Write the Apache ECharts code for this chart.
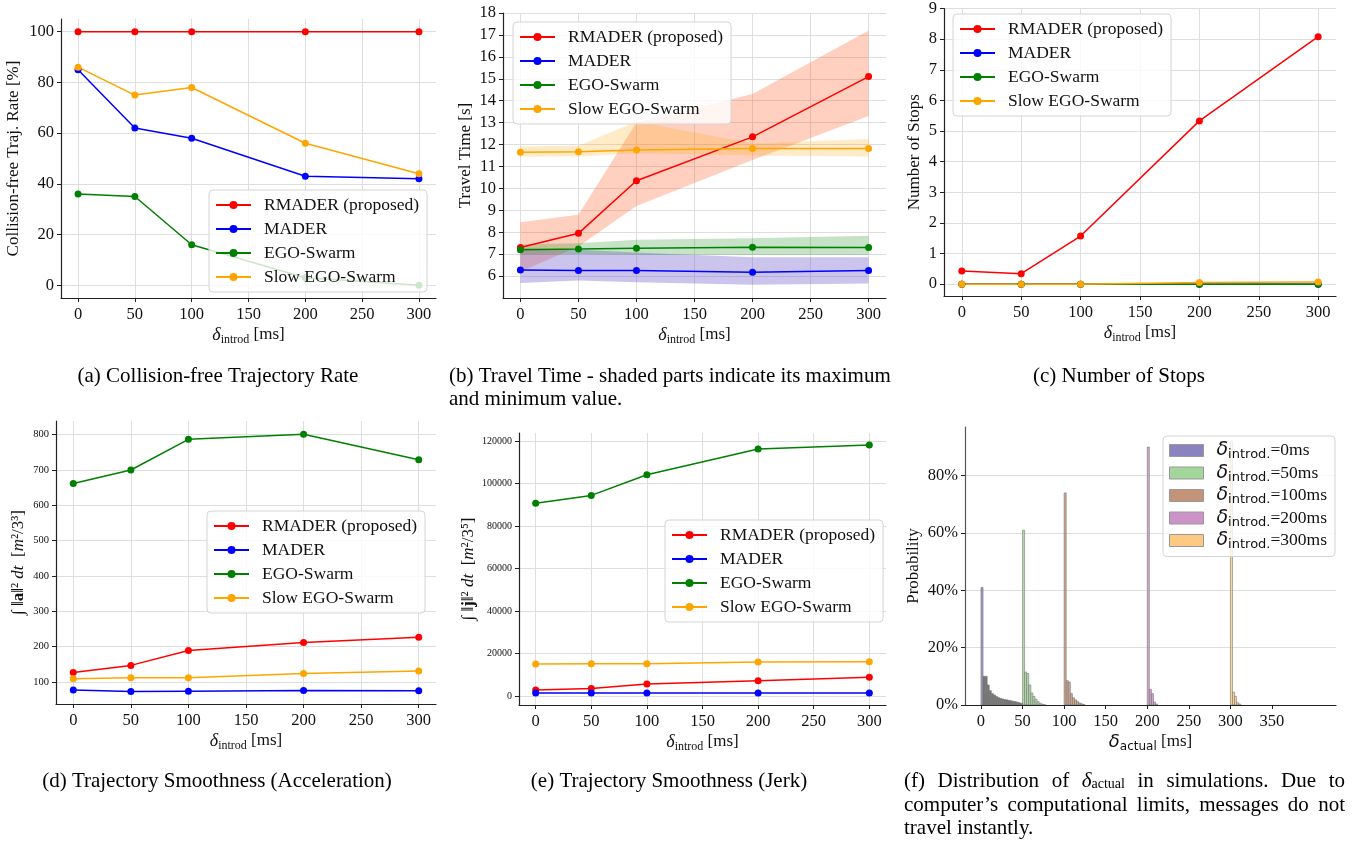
<!DOCTYPE html>
<html>
<head>
<meta charset="utf-8">
<script src="https://cdn.jsdelivr.net/npm/echarts@6/dist/echarts.min.js"></script>
<style>
html, body { margin: 0; padding: 0; background: #fff; }
#figure { width: 1362px; height: 843px; }
</style>
</head>
<body>
<div id="figure"></div>
<script>
// introduced delay [ms]
const introdMs = [0, 50, 100, 200, 300];
const introdTicks = [0, 50, 100, 150, 200, 250, 300];
const seriesNames = ['RMADER (proposed)', 'MADER', 'EGO-Swarm', 'Slow EGO-Swarm'];
const seriesColors = ['#ff0000', '#0000ff', '#008000', '#ffa500'];

// (a) collision-free trajectory rate [%]
const rateRmader = [100, 100, 100, 100, 100];
const rateMader = [85, 62, 58, 43, 42];
const rateEgo = [36, 35, 16, 3, 0];
const rateSlowEgo = [86, 75, 78, 56, 44];
const rateTicks = [0, 20, 40, 60, 80, 100];

// (b) travel time [s], mean with min / max
const timeRmader = [7.3, 7.95, 10.35, 12.35, 15.1];
const timeRmaderMin = [6.2, 7.35, 9.2, 11.3, 13.3];
const timeRmaderMax = [8.45, 8.8, 13.0, 14.3, 17.2];
const timeMader = [6.28, 6.25, 6.25, 6.18, 6.25];
const timeMaderMin = [5.68, 5.8, 5.72, 5.6, 5.66];
const timeMaderMax = [7.27, 7.2, 7.08, 6.86, 6.86];
const timeEgo = [7.2, 7.23, 7.27, 7.32, 7.3];
const timeEgoMin = [6.98, 7.0, 6.97, 6.96, 6.96];
const timeEgoMax = [7.45, 7.5, 7.66, 7.72, 7.84];
const timeSlowEgo = [11.65, 11.67, 11.75, 11.82, 11.82];
const timeSlowEgoMin = [11.45, 11.45, 11.6, 11.5, 11.45];
const timeSlowEgoMax = [11.92, 11.95, 13.05, 12.05, 12.25];
const timeTicks = [6, 7, 8, 9, 10, 11, 12, 13, 14, 15, 16, 17, 18];

// (c) number of stops
const stopsRmader = [0.43, 0.34, 1.57, 5.33, 8.08];
const stopsMader = [0, 0, 0, 0, 0];
const stopsEgo = [0, 0, 0, 0, 0];
const stopsSlowEgo = [0, 0, 0, 0.05, 0.07];
const stopsTicks = [0, 1, 2, 3, 4, 5, 6, 7, 8, 9];

// (d) acceleration cost
const accRmader = [127, 147, 189, 212, 227];
const accMader = [77, 73, 74, 76, 75];
const accEgo = [662, 700, 787, 801, 729];
const accSlowEgo = [109, 112, 112, 124, 131];
const accTicks = [100, 200, 300, 400, 500, 600, 700, 800];

// (e) jerk cost
const jerkRmader = [2800, 3500, 5700, 7200, 8800];
const jerkMader = [1400, 1400, 1400, 1400, 1400];
const jerkEgo = [90700, 94400, 104100, 116200, 118100];
const jerkSlowEgo = [15100, 15150, 15200, 16000, 16100];
const jerkTicks = [0, 20000, 40000, 60000, 80000, 100000, 120000];

// (f) histogram of actual delay, probability [%] per 2.5 ms bin starting at the introduced delay
const BIN_MS = 2.5;
const histNames = ['0ms', '50ms', '100ms', '200ms', '300ms'];
const hist0 = [41, 10, 10, 7, 5, 4, 3.5, 3, 2.6, 2.3, 2.1, 1.9, 1.8, 1.6, 1.5, 1.3, 1.2, 1.0, 0.8, 0.6, 0.3, 0.2, 0.1];
const hist50 = [61, 11.5, 11, 7, 4.2, 3, 2, 1.2, 0.6, 0.3, 0.15];
const hist100 = [74, 8.5, 8, 4, 2.5, 1.8, 1.2, 0.7, 0.4, 0.2];
const hist200 = [90, 5.5, 4, 1, 0.3];
const hist300 = [92, 4.5, 3, 0.8, 0.3];
const actualTicks = [0, 50, 100, 150, 200, 250, 300, 350];
const probTicks = [0, 20, 40, 60, 80];

const SERIF = 'Liberation Serif';
const SANS = 'DejaVu Sans';

function pairs(xs, ys) {
    return xs.map((x, i) => [x, ys[i]]);
}

const introdName = '{d|δ}{s|introd}{n| [ms]}';
const introdRich = {
    d: { fontFamily: SERIF, fontStyle: 'italic', fontSize: 18, lineHeight: 22, color: '#111' },
    s: { fontFamily: SERIF, fontSize: 12, lineHeight: 14, verticalAlign: 'bottom', color: '#111' },
    n: { fontFamily: SERIF, fontSize: 17, lineHeight: 22, color: '#111' }
};

function xAxis(gi, min, max, ticks, name, rich) {
    return {
        type: 'value', gridIndex: gi, min: min, max: max, position: 'bottom',
        axisLine: { show: true, onZero: false, lineStyle: { color: '#222', width: 1.2 } },
        axisTick: { show: true, customValues: ticks, length: 4, lineStyle: { color: '#222' } },
        axisLabel: { customValues: ticks, fontFamily: SERIF, fontSize: 16.5, color: '#111', margin: 8 },
        splitLine: { show: gi !== 5, lineStyle: { color: '#dedede', width: 1 } },
        name: name, nameLocation: 'middle', nameGap: 26,
        nameTextStyle: { rich: rich }
    };
}

function yAxis(gi, min, max, ticks, name, nameGap, labelSize, rich, formatter) {
    return {
        type: 'value', gridIndex: gi, min: min, max: max, position: 'left',
        axisLine: { show: true, onZero: false, lineStyle: { color: gi === 5 ? '#555' : '#222', width: 1.2 } },
        axisTick: { show: true, customValues: ticks, length: 4, lineStyle: { color: '#222' } },
        axisLabel: {
            customValues: ticks, fontFamily: SERIF, fontSize: labelSize, color: '#111', margin: 7,
            formatter: formatter || (v => String(v))
        },
        splitLine: { show: true, lineStyle: { color: '#dedede', width: 1 } },
        name: name, nameLocation: 'middle', nameGap: nameGap, nameRotate: 90,
        nameTextStyle: rich ? { rich: rich } : { fontFamily: SERIF, fontSize: 17, color: '#111' }
    };
}

function lineSeries(gi, k, ys) {
    return {
        type: 'line', name: seriesNames[k], xAxisIndex: gi, yAxisIndex: gi,
        data: pairs(introdMs, ys),
        symbol: 'circle', symbolSize: 7, showSymbol: true,
        itemStyle: { color: seriesColors[k] },
        lineStyle: { color: seriesColors[k], width: 1.5 },
        emphasis: { disabled: true }, z: 3
    };
}

// shaded min/max band: one polygon through all points, drawn on the first item
function bandSeries(gi, lo, hi, fill) {
    return {
        type: 'custom', xAxisIndex: gi, yAxisIndex: gi, silent: true, z: 1,
        data: introdMs.map((x, i) => [x, lo[i], hi[i]]),
        encode: { x: 0, y: [1, 2] },
        renderItem: function (params, api) {
            if (params.dataIndexInside !== 0) return null;
            const n = params.dataInsideLength;
            const upper = [], lower = [];
            for (let i = 0; i < n; i++) {
                upper.push(api.coord([api.value(0, i), api.value(2, i)]));
                lower.unshift(api.coord([api.value(0, i), api.value(1, i)]));
            }
            return {
                type: 'polygon',
                shape: { points: upper.concat(lower) },
                style: { fill: fill, stroke: 'none' }
            };
        }
    };
}

function lineLegend(left, top) {
    return {
        left: left, top: top, orient: 'vertical', data: seriesNames,
        itemWidth: 35, itemHeight: 10, itemGap: 6, padding: [6, 8, 6, 6],
        backgroundColor: 'rgba(255,255,255,0.8)', borderColor: '#d4d4d4', borderWidth: 1, borderRadius: 4,
        textStyle: { fontFamily: SERIF, fontSize: 17.5, color: '#111', padding: [0, 0, 0, 8] },
        selectedMode: false, z: 10
    };
}

const histFills = ['#8a83c0', '#a3d69a', '#c49478', '#cc93c8', '#fec981'];

function histSeries(k, firstEdge, probs) {
    const fill = histFills[k];
    return {
        type: 'custom', name: histNames[k], xAxisIndex: 5, yAxisIndex: 5,
        data: probs.map((p, i) => [firstEdge + i * BIN_MS, p]),
        clip: true, silent: true, z: 2,
        itemStyle: { color: fill },
        renderItem: function (params, api) {
            const x0 = api.value(0);
            const a = api.coord([x0, api.value(1)]);
            const b = api.coord([x0 + BIN_MS, 0]);
            // long tail of the 0 ms histogram renders as dark edges in the original
            const c = (k === 0 && params.dataIndex > 0) ? '#5e5e5e' : fill;
            return {
                type: 'rect',
                shape: { x: a[0], y: a[1], width: b[0] - a[0], height: b[1] - a[1] },
                style: { fill: c, stroke: 'rgba(120,120,120,0.7)', lineWidth: 1, opacity: 0.85 }
            };
        }
    };
}

const chart = echarts.init(document.getElementById('figure'), null, { renderer: 'canvas' });

const series = [];
// (a)
[rateRmader, rateMader, rateEgo, rateSlowEgo].forEach((ys, k) => series.push(lineSeries(0, k, ys)));
// (b)
series.push(bandSeries(1, timeRmaderMin, timeRmaderMax, 'rgba(255,80,20,0.27)'));
series.push(bandSeries(1, timeMaderMin, timeMaderMax, 'rgba(106,90,205,0.35)'));
series.push(bandSeries(1, timeEgoMin, timeEgoMax, 'rgba(0,128,0,0.22)'));
series.push(bandSeries(1, timeSlowEgoMin, timeSlowEgoMax, 'rgba(255,165,0,0.22)'));
[timeRmader, timeMader, timeEgo, timeSlowEgo].forEach((ys, k) => series.push(lineSeries(1, k, ys)));
// (c)
[stopsRmader, stopsMader, stopsEgo, stopsSlowEgo].forEach((ys, k) => series.push(lineSeries(2, k, ys)));
// (d)
[accRmader, accMader, accEgo, accSlowEgo].forEach((ys, k) => series.push(lineSeries(3, k, ys)));
// (e)
[jerkRmader, jerkMader, jerkEgo, jerkSlowEgo].forEach((ys, k) => series.push(lineSeries(4, k, ys)));
// (f)
series.push(histSeries(0, 0, hist0));
series.push(histSeries(1, 50, hist50));
series.push(histSeries(2, 100, hist100));
series.push(histSeries(3, 200, hist200));
series.push(histSeries(4, 300, hist300));

const accName = '{n|∫ ‖}{b|a}{n|‖² }{i|dt}{n|  [}{i|m}{n|²/3³]}';
const jerkName = '{n|∫ ‖}{b|j}{n|‖² }{i|dt}{n|  [}{i|m}{n|²/3⁵]}';
const costRich = {
    n: { fontFamily: SERIF, fontSize: 17, color: '#111' },
    b: { fontFamily: SERIF, fontSize: 17, fontWeight: 'bold', color: '#111' },
    i: { fontFamily: SERIF, fontSize: 17, fontStyle: 'italic', color: '#111' }
};
const actualName = '{d|δ}{s|actual}{n| [ms]}';
const actualRich = {
    d: { fontFamily: SANS, fontStyle: 'italic', fontSize: 18, lineHeight: 22, color: '#111' },
    s: { fontFamily: SANS, fontSize: 12, lineHeight: 14, verticalAlign: 'bottom', color: '#111' },
    n: { fontFamily: SERIF, fontSize: 17, lineHeight: 22, color: '#111' }
};
const histLegendRich = {
    d: { fontFamily: SANS, fontStyle: 'italic', fontSize: 19, lineHeight: 22, color: '#111' },
    s: { fontFamily: SANS, fontSize: 13, lineHeight: 14, verticalAlign: 'bottom', color: '#111' },
    n: { fontFamily: SERIF, fontSize: 17.5, lineHeight: 22, color: '#111' }
};

// captions, the (f) one justified like the paper
const captionFont = '21px "Liberation Serif"';
const captionRich = {
    d: { fontFamily: SERIF, fontStyle: 'italic', fontSize: 21 },
    s: { fontFamily: SERIF, fontSize: 14, verticalAlign: 'bottom', lineHeight: 16 }
};
function caption(x, y, text, align) {
    return {
        type: 'text', x: x, y: y, silent: true,
        style: {
            text: text, font: captionFont, fill: '#000', align: align || 'left', verticalAlign: 'middle',
            rich: captionRich
        }
    };
}
const mctx = document.createElement('canvas').getContext('2d');
function wordWidth(w) {
    if (w.indexOf('{d|') === 0) {
        mctx.font = 'italic 21px "Liberation Serif"';
        const a = mctx.measureText('δ').width;
        mctx.font = '14px "Liberation Serif"';
        return a + mctx.measureText('actual').width;
    }
    mctx.font = captionFont;
    return mctx.measureText(w).width;
}
function justified(x0, x1, y, words) {
    const widths = words.map(wordWidth);
    const total = widths.reduce((s, v) => s + v, 0);
    const gap = (x1 - x0 - total) / (words.length - 1);
    let x = x0;
    return words.map((w, i) => {
        const el = caption(x, y, w);
        x += widths[i] + gap;
        return el;
    });
}

chart.setOption({
    animation: false,
    textStyle: { fontFamily: SERIF },
    grid: [
        { left: 61, top: 19, width: 375, height: 279 },
        { left: 503, top: 13, width: 383, height: 285 },
        { left: 944, top: 5, width: 392, height: 291 },
        { left: 56, top: 421, width: 380, height: 283 },
        { left: 519, top: 433, width: 367, height: 272 },
        { left: 965, top: 427, width: 371, height: 278 }
    ],
    xAxis: [
        xAxis(0, -15, 315, introdTicks, introdName, introdRich),
        xAxis(1, -15, 315, introdTicks, introdName, introdRich),
        xAxis(2, -15, 315, introdTicks, introdName, introdRich),
        xAxis(3, -15, 315, introdTicks, introdName, introdRich),
        xAxis(4, -15, 315, introdTicks, introdName, introdRich),
        xAxis(5, -19.2, 427, actualTicks, actualName, actualRich)
    ],
    yAxis: [
        yAxis(0, -5, 105, rateTicks, 'Collision-free Traj. Rate [%]', 39, 16.5),
        yAxis(1, 5, 18, timeTicks, 'Travel Time [s]', 29, 16.5),
        yAxis(2, -0.387, 9, stopsTicks, 'Number of Stops', 21, 16.5),
        yAxis(3, 37.7, 838.8, accTicks, accName, 29, 10.5, costRich),
        yAxis(4, -4235, 123765, jerkTicks, jerkName, 42, 10, costRich),
        yAxis(5, 0, 97, probTicks, 'Probability', 43, 16.5, null, v => v + '%')
    ],
    legend: [
        lineLegend(209, 190),
        lineLegend(513, 22),
        lineLegend(953, 14),
        lineLegend(207, 511),
        lineLegend(665, 520),
        {
            left: 1163, top: 436, orient: 'vertical', icon: 'rect',
            data: histNames.map((n, k) => ({
                name: n, itemStyle: { color: histFills[k], borderColor: '#999', borderWidth: 1 }
            })),
            itemWidth: 34, itemHeight: 12, itemGap: 2, padding: [5, 8, 5, 6],
            backgroundColor: 'rgba(255,255,255,0.8)', borderColor: '#d4d4d4', borderWidth: 1, borderRadius: 4,
            formatter: n => '{d|δ}{s|introd.}{n|=' + n + '}',
            textStyle: { rich: histLegendRich, padding: [0, 0, 0, 8] },
            selectedMode: false, z: 10
        }
    ],
    series: series,
    graphic: [
        caption(218, 376, '(a) Collision-free Trajectory Rate', 'center'),
        caption(449, 376, '(b) Travel Time - shaded parts indicate its maximum'),
        caption(449, 399, 'and minimum value.'),
        caption(1119, 376, '(c) Number of Stops', 'center'),
        caption(217, 781, '(d) Trajectory Smoothness (Acceleration)', 'center'),
        caption(669, 781, '(e) Trajectory Smoothness (Jerk)', 'center')
    ].concat(
        justified(904, 1345, 781, ['(f)', 'Distribution', 'of', '{d|δ}{s|actual}', 'in', 'simulations.', 'Due', 'to']),
        justified(904, 1345, 805, ['computer\u2019s', 'computational', 'limits,', 'messages', 'do', 'not']),
        [caption(904, 828, 'travel instantly.')]
    )
});
</script>
</body>
</html>
